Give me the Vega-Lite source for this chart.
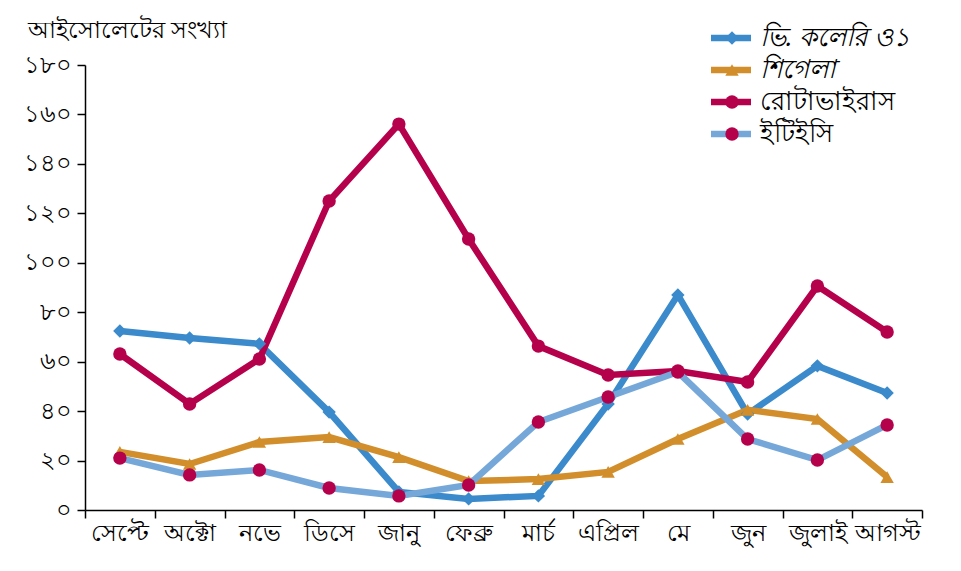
{
  "$schema": "https://vega.github.io/schema/vega-lite/v6.json",
  "width": 837,
  "height": 445,
  "autosize": {"type": "none"},
  "padding": {"left": 85, "top": 65, "right": 39, "bottom": 61},
  "background": "white",
  "config": {
    "font": "Noto Sans",
    "view": {"stroke": null}
  },
  "data": {
    "values": [
      {"month": "সেপ্টে", "series": "ভি. কলেরি ও১", "value": 72.4},
      {"month": "অক্টো", "series": "ভি. কলেরি ও১", "value": 69.6},
      {"month": "নভে", "series": "ভি. কলেরি ও১", "value": 67.2},
      {"month": "ডিসে", "series": "ভি. কলেরি ও১", "value": 39.6},
      {"month": "জানু", "series": "ভি. কলেরি ও১", "value": 7.3},
      {"month": "ফেব্রু", "series": "ভি. কলেরি ও১", "value": 4.5},
      {"month": "মার্চ", "series": "ভি. কলেরি ও১", "value": 5.7},
      {"month": "এপ্রিল", "series": "ভি. কলেরি ও১", "value": 42.9},
      {"month": "মে", "series": "ভি. কলেরি ও১", "value": 87},
      {"month": "জুন", "series": "ভি. কলেরি ও১", "value": 38.8},
      {"month": "জুলাই", "series": "ভি. কলেরি ও১", "value": 58.3},
      {"month": "আগস্ট", "series": "ভি. কলেরি ও১", "value": 47.3},

      {"month": "সেপ্টে", "series": "শিগেলা", "value": 23.5},
      {"month": "অক্টো", "series": "শিগেলা", "value": 18.6},
      {"month": "নভে", "series": "শিগেলা", "value": 27.5},
      {"month": "ডিসে", "series": "শিগেলা", "value": 29.5},
      {"month": "জানু", "series": "শিগেলা", "value": 21.4},
      {"month": "ফেব্রু", "series": "শিগেলা", "value": 11.7},
      {"month": "মার্চ", "series": "শিগেলা", "value": 12.5},
      {"month": "এপ্রিল", "series": "শিগেলা", "value": 15.4},
      {"month": "মে", "series": "শিগেলা", "value": 28.7},
      {"month": "জুন", "series": "শিগেলা", "value": 40.5},
      {"month": "জুলাই", "series": "শিগেলা", "value": 36.8},
      {"month": "আগস্ট", "series": "শিগেলা", "value": 13.3},

      {"month": "সেপ্টে", "series": "রোটাভাইরাস", "value": 63.1},
      {"month": "অক্টো", "series": "রোটাভাইরাস", "value": 42.9},
      {"month": "নভে", "series": "রোটাভাইরাস", "value": 61.1},
      {"month": "ডিসে", "series": "রোটাভাইরাস", "value": 125},
      {"month": "জানু", "series": "রোটাভাইরাস", "value": 156.1},
      {"month": "ফেব্রু", "series": "রোটাভাইরাস", "value": 109.6},
      {"month": "মার্চ", "series": "রোটাভাইরাস", "value": 66.3},
      {"month": "এপ্রিল", "series": "রোটাভাইরাস", "value": 54.6},
      {"month": "মে", "series": "রোটাভাইরাস", "value": 56.2},
      {"month": "জুন", "series": "রোটাভাইরাস", "value": 51.8},
      {"month": "জুলাই", "series": "রোটাভাইরাস", "value": 90.6},
      {"month": "আগস্ট", "series": "রোটাভাইরাস", "value": 72},

      {"month": "সেপ্টে", "series": "ইটিইসি", "value": 21},
      {"month": "অক্টো", "series": "ইটিইসি", "value": 14.2},
      {"month": "নভে", "series": "ইটিইসি", "value": 16.2},
      {"month": "ডিসে", "series": "ইটিইসি", "value": 8.9},
      {"month": "জানু", "series": "ইটিইসি", "value": 5.7},
      {"month": "ফেব্রু", "series": "ইটিইসি", "value": 10.1},
      {"month": "মার্চ", "series": "ইটিইসি", "value": 35.6},
      {"month": "এপ্রিল", "series": "ইটিইসি", "value": 45.7},
      {"month": "মে", "series": "ইটিইসি", "value": 55.8},
      {"month": "জুন", "series": "ইটিইসি", "value": 28.7},
      {"month": "জুলাই", "series": "ইটিইসি", "value": 20.2},
      {"month": "আগস্ট", "series": "ইটিইসি", "value": 34.4}
    ]
  },
  "encoding": {
    "x": {
      "field": "month",
      "type": "nominal",
      "sort": ["সেপ্টে", "অক্টো", "নভে", "ডিসে", "জানু", "ফেব্রু", "মার্চ", "এপ্রিল", "মে", "জুন", "জুলাই", "আগস্ট"],
      "scale": {"paddingInner": 0, "paddingOuter": 0},
      "axis": {
        "title": null,
        "labelAngle": 0,
        "labelFontSize": 24,
        "labelColor": "black",
        "labelPadding": 3,
        "domainColor": "black",
        "domainWidth": 1.5,
        "tickColor": "black",
        "tickWidth": 1.5,
        "tickSize": 8,
        "tickBand": "extent",
        "grid": false
      }
    },
    "y": {
      "field": "value",
      "type": "quantitative",
      "scale": {"domain": [0, 180], "nice": false},
      "axis": {
        "title": "আইসোলেটের সংখ্যা",
        "titleAngle": 0,
        "titleAlign": "left",
        "titleBaseline": "middle",
        "titleX": -58,
        "titleY": -35,
        "titleFontSize": 24,
        "titleFontWeight": "normal",
        "titleColor": "black",
        "values": [0, 20, 40, 60, 80, 100, 120, 140, 160, 180],
        "labelExpr": "datum.value == 0 ? '০' : datum.value == 20 ? '২০' : datum.value == 40 ? '৪০' : datum.value == 60 ? '৬০' : datum.value == 80 ? '৮০' : datum.value == 100 ? '১০০' : datum.value == 120 ? '১২০' : datum.value == 140 ? '১৪০' : datum.value == 160 ? '১৬০' : '১৮০'",
        "labelFontSize": 24,
        "labelColor": "black",
        "labelPadding": 6,
        "domainColor": "black",
        "domainWidth": 1.5,
        "tickColor": "black",
        "tickWidth": 1.5,
        "tickSize": 8,
        "grid": false
      }
    }
  },
  "layer": [
    {
      "mark": {"type": "line", "strokeWidth": 6.5, "strokeJoin": "miter"},
      "encoding": {
        "stroke": {
          "field": "series",
          "type": "nominal",
          "sort": ["ভি. কলেরি ও১", "শিগেলা", "রোটাভাইরাস", "ইটিইসি"],
          "scale": {
            "range": ["#3b8acb", "#d28e2b", "#b5004b", "#76a7d9"]
          },
          "legend": {
            "title": null,
            "orient": "none",
            "legendX": 633,
            "legendY": -40,
            "symbolType": "M-2.5,0H2.5",
            "symbolSize": 256,
            "symbolStrokeWidth": 6.5,
            "symbolFillColor": "transparent",
            "labelFontSize": 26,
            "labelColor": "black",
            "labelOffset": 16,
            "rowPadding": 6,
            "labelLimit": 300,
            "encode": {
              "labels": {
                "update": {
                  "fontStyle": {"signal": "indexof(['ভি. কলেরি ও১', 'শিগেলা'], datum.value) >= 0 ? 'italic' : 'normal'"}
                }
              }
            }
          }
        }
      }
    },
    {
      "mark": {"type": "point", "filled": true, "opacity": 1, "size": 180},
      "encoding": {
        "fill": {
          "field": "series",
          "type": "nominal",
          "scale": {
            "domain": ["ভি. কলেরি ও১", "শিগেলা", "রোটাভাইরাস", "ইটিইসি"],
            "range": ["#3b8acb", "#d28e2b", "#b5004b", "#b5004b"]
          },
          "legend": {
            "title": null,
            "orient": "none",
            "legendX": 634,
            "legendY": -40,
            "symbolSize": 180,
            "labelExpr": "' '",
            "labelFontSize": 26,
            "labelColor": "transparent",
            "labelOffset": 8,
            "rowPadding": 6
          }
        },
        "shape": {
          "field": "series",
          "type": "nominal",
          "scale": {
            "domain": ["ভি. কলেরি ও১", "শিগেলা", "রোটাভাইরাস", "ইটিইসি"],
            "range": ["diamond", "triangle-up", "circle", "circle"]
          },
          "legend": {
            "title": null,
            "orient": "none",
            "legendX": 634,
            "legendY": -40,
            "symbolSize": 180,
            "labelExpr": "' '",
            "labelFontSize": 26,
            "labelColor": "transparent",
            "labelOffset": 8,
            "rowPadding": 6
          }
        }
      }
    }
  ]
}
